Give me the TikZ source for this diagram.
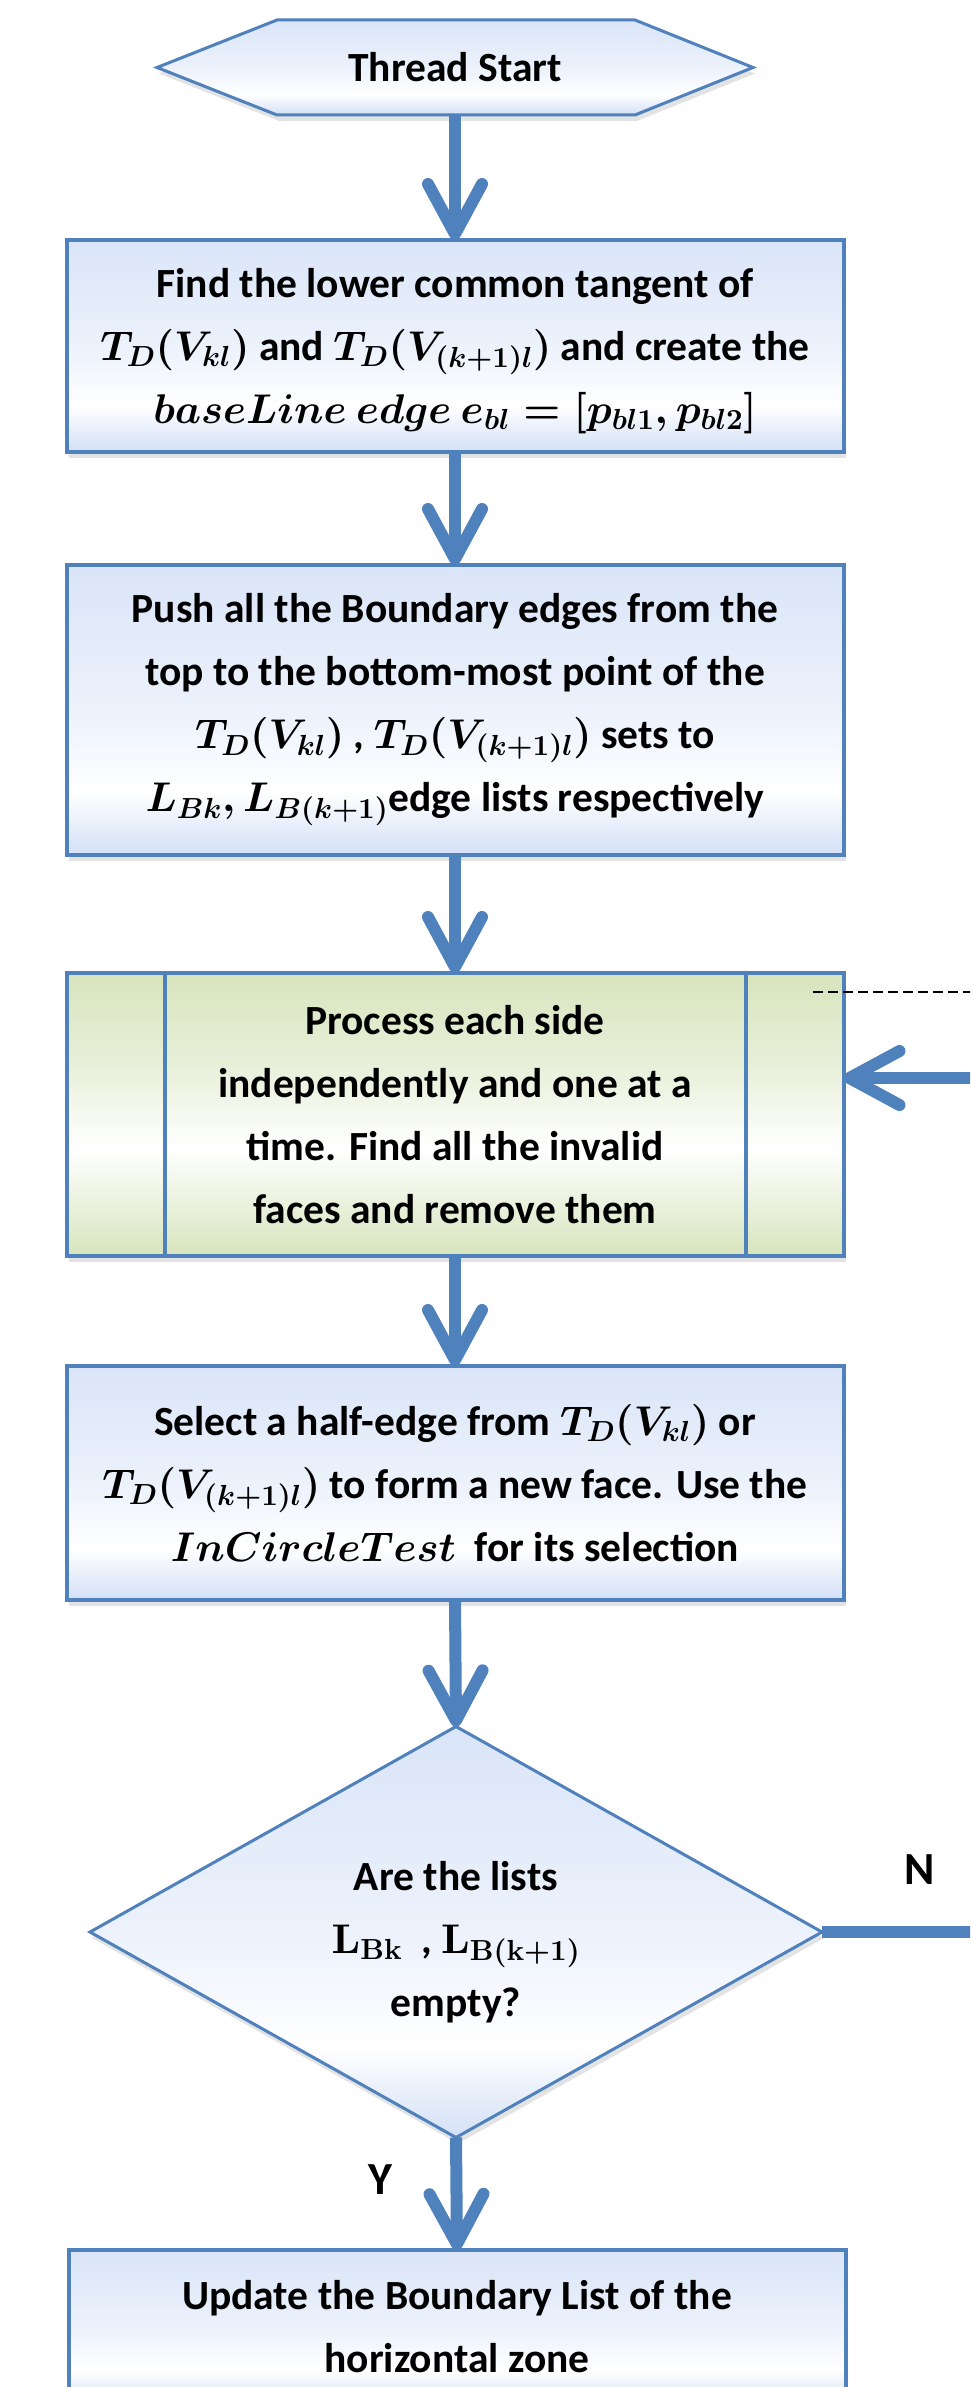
\documentclass[tikz,border=0pt]{standalone}
\usepackage{fontspec}
\setmainfont{Carlito}
\DeclareFontShape{OML}{cmm}{m}{it}{<->cmmi10}{}
\DeclareFontShape{OML}{cmm}{b}{it}{<->cmmib10}{}
\DeclareFontShape{OMS}{cmsy}{m}{n}{<->cmsy10}{}
\DeclareFontShape{OMS}{cmsy}{b}{n}{<->cmbsy10}{}
\DeclareFontShape{OMX}{cmex}{m}{n}{<->cmex10}{}
\DeclareFontShape{OT1}{cmr}{m}{n}{<->cmr10}{}
\DeclareFontShape{OT1}{cmr}{bx}{n}{<->cmbx10}{}
\usetikzlibrary{arrows.meta,shapes.geometric,shadows,calc}
\definecolor{fblue}{HTML}{4F81BD}
\definecolor{bA}{HTML}{D3E0F6}
\definecolor{bB}{HTML}{EEF3FC}
\definecolor{gA}{HTML}{D7E4BD}
\pgfdeclareverticalshading{blueshade}{100bp}{color(0bp)=(bA); color(25bp)=(bA); color(36bp)=(white); color(48bp)=(bB); color(75bp)=(bA!85!white); color(100bp)=(bA!85!white)}
\pgfdeclareverticalshading{greenshade}{100bp}{color(0bp)=(gA); color(25bp)=(gA); color(44bp)=(white); color(58bp)=(gA!55!white); color(75bp)=(gA); color(100bp)=(gA)}
\tikzset{
  txt/.style={font=\fontsize{41.5}{63}\selectfont\bfseries\boldmath, align=center, text=black},
  lbl/.style={font=\fontsize{46}{50}\selectfont\bfseries, text=black},
  softshadow/.style={drop shadow={shadow xshift=2pt, shadow yshift=-6pt, opacity=0.22}},
  procbox/.style={txt, draw=fblue, line width=4pt, outer sep=0pt, inner sep=0pt,
    minimum width=777pt, shading=blueshade, softshadow},
  predbox/.style={procbox, shading=greenshade},
  decision/.style={txt, shape=diamond, draw=fblue, line width=3pt, outer sep=0pt, inner sep=0pt,
    minimum width=732pt, minimum height=411pt, aspect=1.78, shading=blueshade, softshadow},
  hexbox/.style={draw=fblue, line width=3pt, shading=blueshade, softshadow},
  flow/.style={draw=fblue, line width=12pt, -{Straight Barb[length=50pt,width=54pt,round]}},
  flowline/.style={draw=fblue, line width=12pt},
  loopdash/.style={draw=black, line width=2.5pt, dash pattern=on 10pt off 5pt},
  innerline/.style={draw=fblue, line width=4pt},
}
\begin{document}
\begin{tikzpicture}[x=1pt,y=-1pt]
\useasboundingbox (0,0) rectangle (970,2387);
\fill[white] (0,0) rectangle (970,2387);
\clip (0,0) rectangle (970,2387);

% start hexagon
\node[minimum width=596pt, minimum height=95pt, inner sep=0pt, outer sep=0pt] (start) at (455,67.5) {};
\path[hexbox] (start.west) -- ($(start.north west)+(120,0)$) -- ($(start.north east)+(-118,0)$)
  -- (start.east) -- ($(start.south east)+(-118,0)$) -- ($(start.south west)+(120,0)$) -- cycle;
\node[txt] (starttext) at (start.center) {Thread Start};

% boxes
\node[procbox, minimum height=212pt] (b1) at (455,346) {\rule{0pt}{39pt}Find the lower common tangent of\\
$T_D(V_{kl})$ and $T_D\big(V_{(k+1)l}\big)$ and create the\\
$baseLine\ edge\ e_{bl}=[p_{bl1},p_{bl2}]$};

\node[procbox, minimum height=290pt] (b2) at (455,710) {Push all the Boundary edges from the\\
top to the bottom-most point of the\\
$T_D(V_{kl})$ , $T_D\big(V_{(k+1)l}\big)$ sets to\\
$L_{Bk}, L_{B(k+1)}$edge lists respectively};

\node[predbox, minimum height=283pt] (b3) at (455,1114.5) {Process each side\\
independently and one at a\\
time. Find all the invalid\\
faces and remove them};
\draw[innerline] ([xshift=98pt]b3.north west) -- ([xshift=98pt]b3.south west);
\draw[innerline] ([xshift=-98pt]b3.north east) -- ([xshift=-98pt]b3.south east);

\node[procbox, minimum height=234pt] (b4) at (455,1483) {Select a half-edge from $T_D(V_{kl})$ or\\
$T_D\big(V_{(k+1)l}\big)$ to form a new face. Use the\\
$InCircleTest$\ \ for its selection};

\node[decision] (dec) at (456,1932) {\rule{0pt}{50pt}Are the lists\\
$\mathbf{L_{Bk}}$\ \ , $\mathbf{L_{B(k+1)}}$\\
empty?};

\node[procbox, minimum height=154pt] (b5) at (457,2327) {Update the Boundary List of the\\
horizontal zone};

% labels
\node[lbl] (nlab) at (920,1870) {N};
\node[lbl] (ylab) at (380,2180) {Y};

% connectors
\draw[flow] (start.south) -- (b1.north);
\draw[flow] (b1.south) -- (b2.north);
\draw[flow] (b2.south) -- (b3.north);
\draw[flow] (b3.south) -- (b4.north);
\draw[flow] (b4.south) -- (dec.north);
\draw[flow] (dec.south) -- (b5.north);

\coordinate (nend) at (995,1932);
\draw[flowline] (dec.east) -- (nend);

\coordinate (loopin) at (995,1078);
\draw[flow] (loopin) -- (loopin -| b3.east);

\coordinate (dashA) at (813,992);
\coordinate (dashB) at (995,992);
\draw[loopdash] (dashA) -- (dashB);
\end{tikzpicture}
\end{document}
